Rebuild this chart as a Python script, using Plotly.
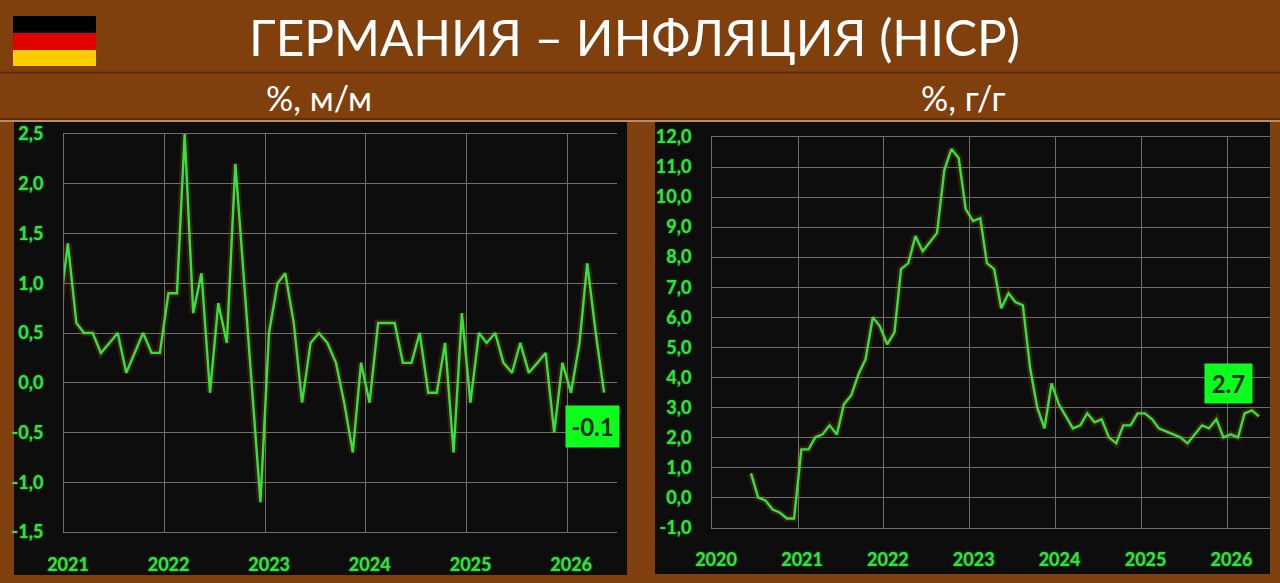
import pandas as pd
import plotly.graph_objects as go
from plotly.subplots import make_subplots

GREEN = "#33e33d"
GRID = "#6e6e6e"
BROWN = "#80400e"
PANEL = "#0d0d0d"
FONT = "Lato"

# monthly readings, dated mid-month like the source chart
mom_dates = pd.date_range("2020-12-01", periods=66, freq="MS") + pd.Timedelta(days=14)
mom_values = [0.7,
              1.4, 0.6, 0.5, 0.5, 0.3, 0.4, 0.5, 0.1, 0.3, 0.5, 0.3, 0.3,
              0.9, 0.9, 2.5, 0.7, 1.1, -0.1, 0.8, 0.4, 2.2, 1.1, 0.0, -1.2,
              0.5, 1.0, 1.1, 0.6, -0.2, 0.4, 0.5, 0.4, 0.2, -0.2, -0.7, 0.2,
              -0.2, 0.6, 0.6, 0.6, 0.2, 0.2, 0.5, -0.1, -0.1, 0.4, -0.7, 0.7,
              -0.2, 0.5, 0.4, 0.5, 0.2, 0.1, 0.4, 0.1, 0.2, 0.3, -0.5, 0.2,
              -0.1, 0.4, 1.2, 0.5, -0.1]

yoy_dates = pd.date_range("2020-06-01", periods=72, freq="MS") + pd.Timedelta(days=14)
yoy_values = [0.8, 0.0, -0.1, -0.4, -0.5, -0.7, -0.7,
              1.6, 1.6, 2.0, 2.1, 2.4, 2.1, 3.1, 3.4, 4.1, 4.6, 6.0, 5.7,
              5.1, 5.5, 7.6, 7.8, 8.7, 8.2, 8.5, 8.8, 10.9, 11.6, 11.3, 9.6,
              9.2, 9.3, 7.8, 7.6, 6.3, 6.8, 6.5, 6.4, 4.3, 3.0, 2.3, 3.8,
              3.1, 2.7, 2.3, 2.4, 2.8, 2.5, 2.6, 2.0, 1.8, 2.4, 2.4, 2.8,
              2.8, 2.6, 2.3, 2.2, 2.1, 2.0, 1.8, 2.1, 2.4, 2.3, 2.6, 2.0,
              2.1, 2.0, 2.8, 2.9, 2.7]

mom_ticks = [2.5, 2.0, 1.5, 1.0, 0.5, 0.0, -0.5, -1.0, -1.5]
mom_ticktext = ["2,5", "2,0", "1,5", "1,0", "0,5", "0,0", "-0,5", "-1,0", "-1,5"]
yoy_ticks = [12, 11, 10, 9, 8, 7, 6, 5, 4, 3, 2, 1, 0, -1]
yoy_ticktext = ["12,0", "11,0", "10,0", "9,0", "8,0", "7,0", "6,0", "5,0", "4,0", "3,0", "2,0", "1,0", "0,0", "-1,0"]
mom_years = ["2021", "2022", "2023", "2024", "2025", "2026"]
yoy_years = ["2020", "2021", "2022", "2023", "2024", "2025", "2026"]


def px(x):
    return x / 1280


def py(y):
    return 1 - y / 583


fig = make_subplots(rows=1, cols=2)

for col, dates, values in [(1, mom_dates, mom_values), (2, yoy_dates, yoy_values)]:
    # soft orange halo under the line
    fig.add_trace(go.Scatter(x=dates, y=values, mode="lines", hoverinfo="skip",
                             line={"color": "rgba(190,90,20,0.22)", "width": 7}), row=1, col=col)
    fig.add_trace(go.Scatter(x=dates, y=values, mode="lines",
                             line={"color": GREEN, "width": 2.4}), row=1, col=col)

tickfont = {"family": FONT, "size": 18, "color": GREEN, "weight": "bold",
            "shadow": "0 0 2px rgba(47,224,60,0.7)"}
axis = dict(showgrid=True, gridcolor=GRID, gridwidth=1, zeroline=False, showline=True,
            linecolor=GRID, linewidth=1, ticks="", tickfont=tickfont, automargin=False)

# mirror on x gives the top and bottom edges, the y line gives the left edge
fig.update_xaxes(axis, type="date", tickmode="array", mirror=True,
                 ticklabelstandoff=16, ticklabelshift=4)
fig.update_yaxes(axis, tickmode="array", ticklabelstandoff=16)

fig.update_xaxes(domain=[px(64), px(617)], range=["2021-01-01", "2026-07-01"],
                 tickvals=[y + "-01-01" for y in mom_years], ticktext=mom_years, row=1, col=1)
fig.update_yaxes(domain=[py(532), py(134)], range=[-1.5, 2.5],
                 tickvals=mom_ticks, ticktext=mom_ticktext, row=1, col=1)
fig.update_xaxes(domain=[px(712), px(1270)], range=["2020-01-01", "2026-07-01"],
                 tickvals=[y + "-01-01" for y in yoy_years], ticktext=yoy_years, row=1, col=2)
fig.update_yaxes(domain=[py(527.5), py(137)], range=[-1, 12],
                 tickvals=yoy_ticks, ticktext=yoy_ticktext, row=1, col=2)


def box(x0, y0, x1, y1, color):
    fig.add_shape(type="rect", xref="paper", yref="paper", layer="below",
                  x0=px(x0), x1=px(x1), y0=py(y0), y1=py(y1),
                  fillcolor=color, line={"width": 0})


def rule(y, color):
    fig.add_shape(type="line", xref="paper", yref="paper", layer="below",
                  x0=0, x1=1, y0=py(y), y1=py(y), line={"color": color, "width": 1.5})


box(14, 122, 627, 575, PANEL)
box(655, 122, 1270, 574, PANEL)
box(13, 16, 96, 33, "#000000")
box(13, 33, 96, 50, "#e00000")
box(13, 50, 96, 66, "#ffcc00")
rule(72.5, "#5a2508")
rule(119, "#5a2508")
rule(121, "#c9a98c")


def label(text, x, y, size):
    fig.add_annotation(text=text, x=px(x), y=py(y), xref="paper", yref="paper",
                       xanchor="center", yanchor="middle", showarrow=False,
                       font={"family": FONT, "size": size, "color": "#ffffff"})


def badge(value, x0, y0, x1, y1):
    fig.add_annotation(text=str(value), x=px((x0 + x1) / 2), y=py((y0 + y1) / 2),
                       xref="paper", yref="paper", xanchor="center", yanchor="middle",
                       showarrow=False, width=x1 - x0, height=y1 - y0, align="center",
                       valign="middle", bgcolor="#0cff1c", borderpad=0,
                       font={"family": FONT, "size": 24, "color": "#0a2a0a", "weight": "bold"})


label("ГЕРМАНИЯ – ИНФЛЯЦИЯ (HICP)", 634, 37, 49.5)
label("%, м/м", 319, 97, 34)
label("%, г/г", 963, 97, 34)
badge(mom_values[-1], 566, 406, 619, 447)
badge(yoy_values[-1], 1205, 364, 1252, 403)

fig.update_layout(width=1280, height=583, margin={"l": 0, "r": 0, "t": 0, "b": 0, "pad": 0},
                  paper_bgcolor=BROWN, plot_bgcolor="rgba(0,0,0,0)", showlegend=False)

fig.write_html("out.html", config={"displayModeBar": False},
               post_script="document.body.style.margin='0';")
